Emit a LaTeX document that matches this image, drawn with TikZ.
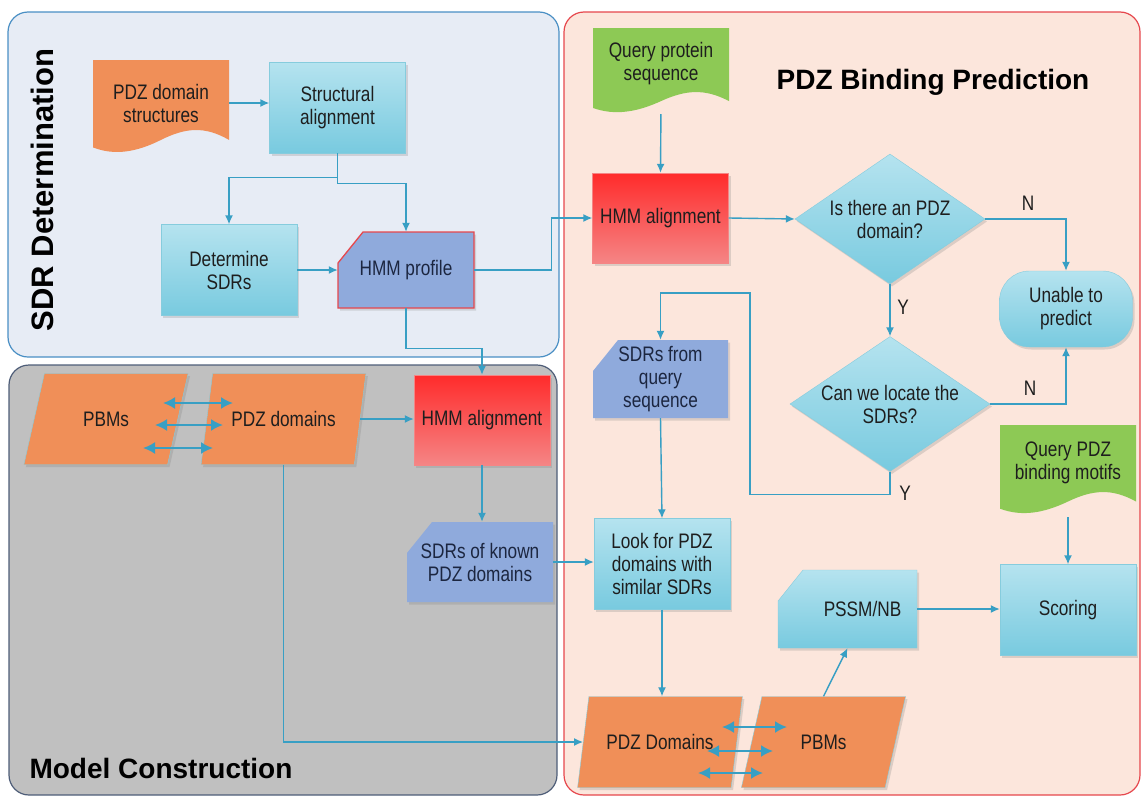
\documentclass[tikz,border=0pt]{standalone}
\usepackage{fontspec}
\setmainfont{Liberation Sans}
\newfontfamily\narrowfont{Liberation Sans}[FakeStretch=0.82]
\usetikzlibrary{arrows.meta,shapes.geometric,shadows}

\definecolor{sdrfill}{HTML}{E7ECF5}
\definecolor{sdrline}{HTML}{4A8FC4}
\definecolor{predfill}{HTML}{FCE6DC}
\definecolor{predline}{HTML}{E6474D}
\definecolor{modfill}{HTML}{C0C0C0}
\definecolor{modline}{HTML}{4E5D78}
\definecolor{orgfill}{HTML}{F08F58}
\definecolor{grnfill}{HTML}{8DC955}
\definecolor{proctop}{HTML}{B5E3EF}
\definecolor{procbot}{HTML}{78CADF}
\definecolor{procline}{HTML}{86CCDD}
\definecolor{cardfill}{HTML}{8FAADC}
\definecolor{hmmtop}{HTML}{FF2B2B}
\definecolor{hmmbot}{HTML}{F58585}
\definecolor{linkcol}{HTML}{389FC4}
\definecolor{txtcol}{HTML}{1E1E1E}
\definecolor{cardtxt}{HTML}{1C2640}

\newcommand{\boxfont}{\narrowfont\fontsize{21}{23}\selectfont}
\newcommand{\headfont}{\bfseries\fontsize{28}{32}\selectfont}

% wavy document: x, y (top left), width, height, colour
\newcommand{\docshape}[5]{%
  \fill[#5, shift={(#1,#2)}, xscale=#3, yscale=#4]
    (0,0) -- (1,0) -- (1,0.85) .. controls (0.82,0.7) and (0.68,0.72) .. (0.5,0.85)
    .. controls (0.32,0.98) and (0.16,1.02) .. (0,0.93) -- cycle;}
% card with cut corner: x, y (top left), width, height, style
\newcommand{\cardshape}[5]{%
  \path[#5, shift={(#1,#2)}] (25,0) -- (#3,0) -- (#3,#4) -- (0,#4) -- (0,31) -- cycle;}

\begin{document}
\begin{tikzpicture}[x=1pt, y=-1pt,
    panel/.style={rounded corners=20pt, line width=1.2pt, inner sep=0pt},
    shade/.style={drop shadow={opacity=0.25, shadow xshift=2pt, shadow yshift=-2.5pt}},
    box/.style={shade, minimum width=136pt, minimum height=91pt, align=center,
      font=\boxfont, text=txtcol},
    proc/.style={box, draw=procline, top color=proctop, bottom color=procbot},
    hmmbox/.style={box, top color=hmmtop, bottom color=hmmbot, draw=hmmbot},
    cardtext/.style={align=center, font=\boxfont, text=cardtxt},
    doctext/.style={minimum width=136pt, minimum height=80pt, align=center,
      font=\boxfont, text=txtcol},
    dec/.style={diamond, aspect=1.46, inner sep=0pt, draw=procline, top color=proctop,
      bottom color=procbot, shade, align=center, font=\boxfont, text=txtcol},
    stopbox/.style={proc, rounded corners=30pt, minimum width=133pt, minimum height=76pt},
    para/.style={trapezium, trapezium left angle=67.7, trapezium right angle=112.3,
      trapezium stretches=true, minimum width=165pt, minimum height=91pt,
      fill=orgfill, draw=procline, shade, font=\boxfont, text=txtcol},
    lbl/.style={font=\boxfont, text=txtcol},
    link/.style={draw=linkcol, line width=1.4pt, -{Latex[length=9pt,width=8pt]}},
    twoway/.style={draw=linkcol, line width=2pt,
      {Latex[length=12pt,width=12pt]}-{Latex[length=12pt,width=12pt]}}]
\useasboundingbox (0,0) rectangle (1143,798);

% Panels
\node[panel, draw=sdrline, fill=sdrfill, minimum width=551pt, minimum height=345pt] (sdrpanel) at (283.5,184.5) {};
\node[panel, draw=predline, fill=predfill, minimum width=576pt, minimum height=783pt] (predpanel) at (852,403.5) {};
\node[panel, draw=modline, fill=modfill, minimum width=548pt, minimum height=430pt] (modpanel) at (283,580) {};

\node[font=\bfseries\fontsize{31}{34}\selectfont, rotate=90] (sdrtitle) at (42,190) {SDR Determination};
\node[font=\headfont] (predtitle) at (933,82) {PDZ Binding Prediction};
\node[font=\headfont] (modtitle) at (161,768) {Model Construction};

% Input documents
\docshape{93}{60}{136}{94}{orgfill}
\docshape{593}{28}{136}{86}{grnfill}
\docshape{1000}{425}{136}{90}{grnfill}
\node[doctext] (pds) at (161,103) {PDZ domain\\structures};
\node[doctext] (qps) at (661,64) {Query protein\\sequence};
\node[doctext] (qpm) at (1068,463) {Query PDZ\\binding motifs};

% Cut-corner cards
\cardshape{338}{232}{136}{76}{fill=cardfill, draw=predline, line width=1.3pt, shade}
\cardshape{407}{522}{146}{80}{fill=cardfill, shade}
\cardshape{593}{340}{135}{78}{fill=cardfill, shade}
\cardshape{778}{570}{139}{78}{top color=proctop, bottom color=procbot, draw=procline, shade}

% SDR determination
\node[proc] (sa) at (337.5,107.5) {Structural\\alignment};
\node[proc] (ds) at (229,270) {Determine\\SDRs};
\node[cardtext, minimum width=136pt, minimum height=76pt] (hp) at (406,270) {HMM profile};

% Model construction
\node[para] (pb1) at (106,419) {PBMs};
\node[para] (pd1) at (283.5,419) {PDZ domains};
\node[hmmbox, minimum height=90pt] (ha1) at (482,420) {HMM alignment};
\node[cardtext, minimum width=146pt, minimum height=80pt] (sk) at (480,562) {SDRs of known\\PDZ domains};

% Binding prediction
\node[hmmbox, minimum height=90pt] (ha2) at (660.5,218) {HMM alignment};
\node[dec, minimum width=190pt, minimum height=130pt] (d1) at (890,219) {Is there an PDZ\\domain?};
\node[dec, minimum width=200pt, minimum height=135pt] (d2) at (890,404) {Can we locate the\\SDRs?};
\node[stopbox] (un) at (1066,309) {Unable to\\predict};
\node[cardtext, minimum width=135pt, minimum height=78pt] (sq) at (660.5,379) {SDRs from\\query\\sequence};
\node[proc] (lk) at (662,564) {Look for PDZ\\domains with\\similar SDRs};
\node[cardtext, text=txtcol, minimum width=139pt, minimum height=78pt] (ps) at (847.5,609) {\hspace*{30pt}PSSM/NB};
\node[proc] (sc) at (1068,610) {Scoring};
\node[para] (pd2) at (660,742) {PDZ Domains};
\node[para] (pb2) at (823.5,742) {PBMs};

\node[lbl] (n1) at (1028,203) {N};
\node[lbl] (y1) at (903,307) {Y};
\node[lbl] (n2) at (1030,388) {N};
\node[lbl] (y2) at (905,493) {Y};

% Connections
\draw[link] (pds.east) -- (pds.east -| sa.west);
\draw[link] (sa.south) -- ++(0,24) -| (ds.north);
\draw[link] (sa.south) -- ++(0,30) -| (hp.north);
\draw[link] (ds.east) -- (hp.west);
\draw[link] (hp.east) -- ++(77,0) |- (ha2.west);
\draw[link] (hp.south) -- ++(0,40) -| (ha1.north);

\draw[twoway] ([shift={(57,-16)}]pb1.center) -- ([shift={(-50.5,-16)}]pd1.center);
\draw[twoway] ([shift={(49,6)}]pb1.center) -- ([shift={(-60.5,6)}]pd1.center);
\draw[twoway] ([shift={(37,29)}]pb1.center) -- ([shift={(-70.5,29)}]pd1.center);
\draw[link] (pd1.east) -- (pd1.east -| ha1.west);
\draw[link] (ha1.south) -- (ha1.south |- sk.north);
\draw[link] (pd1.south) |- (pd2.west);
\draw[link] (sk.east) -- (sk.east -| lk.west);

\draw[link, shorten <=10pt] (qps.south) -- (ha2.north);
\draw[link] (ha2.east) -- (d1.west);
\draw[link] (d1.east) -| (un.north);
\draw[link] (d1.south) -- (d2.north);
\draw[link] (d2.east) -| (un.south);
\coordinate (loopc) at (750,293);
\draw[link] (d2.south) -- ++(0,23) -| (loopc) -| (sq.north);
\draw[link] (sq.south) -- (lk.north);
\draw[link] (lk.south) -- (lk.south |- pd2.north);
\draw[twoway] ([shift={(62,-15)}]pd2.center) -- ([shift={(-36.5,-15)}]pb2.center);
\draw[twoway] ([shift={(47,9)}]pd2.center) -- ([shift={(-50.5,9)}]pb2.center);
\draw[twoway] ([shift={(38,31)}]pd2.center) -- ([shift={(-60.5,31)}]pb2.center);
\draw[link] (pb2.north) -- (ps.south);
\draw[link] (ps.east) -- (ps.east -| sc.west);
\draw[link, shorten <=14pt] (qpm.south) -- (sc.north);
\end{tikzpicture}
\end{document}
